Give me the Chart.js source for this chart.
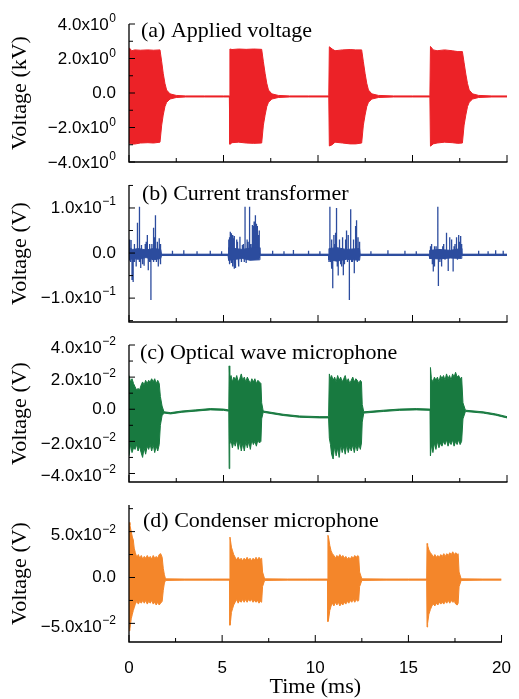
<!DOCTYPE html>
<html>
<head>
<meta charset="utf-8">
<title>Discharge signals</title>
<script src="https://cdn.jsdelivr.net/npm/chart.js@4.4.1/dist/chart.umd.min.js"></script>
<style>
  html, body { margin: 0; padding: 0; background: #fff; overflow: hidden; }
  body { width: 519px; height: 699px; position: relative; }
  canvas { position: absolute; left: 0; }
</style>
</head>
<body>
<canvas id="panel-a"></canvas>
<canvas id="panel-b"></canvas>
<canvas id="panel-c"></canvas>
<canvas id="panel-d"></canvas>
<script>
// ---- shared time axis (ms) ----
const xMajorTicks = [0, 5, 10, 15, 20];
const xTickLabels = ['0', '5', '10', '15', '20'];
const xMinorTicks = [2.5, 7.5, 12.5, 17.5];

// ---- (a) applied voltage, burst envelope (kV) ----
const aTime = [
  0, 0.15, 0.3, 0.6, 1.0, 1.3, 1.64, 1.73, 1.81, 1.90, 1.99, 2.17, 2.5,
  3.0, 4.0, 5.0, 5.31,
  5.34, 5.45, 5.8, 6.2, 6.6, 7.02, 7.11, 7.20, 7.29, 7.38, 7.56, 7.9,
  8.5, 9.5, 10.57,
  10.60, 10.75, 10.9, 11.3, 11.7, 12.0, 12.31, 12.40, 12.49, 12.58, 12.67, 12.85, 13.2,
  14.0, 15.0, 15.92,
  15.95, 16.1, 16.3, 16.7, 17.1, 17.4, 17.64, 17.73, 17.82, 17.91, 18.00, 18.18, 18.5,
  19.2, 20
];
const aUpper = [
  2.63, 2.45, 2.5, 2.48, 2.5, 2.48, 2.5, 1.81, 1.14, 0.56, 0.17, -0.05, -0.14,
  -0.17, -0.17, -0.17, -0.17,
  2.55, 2.52, 2.55, 2.53, 2.55, 2.53, 1.81, 1.14, 0.56, 0.17, -0.05, -0.14,
  -0.17, -0.17, -0.17,
  2.68, 2.55, 2.45, 2.5, 2.52, 2.5, 2.5, 1.81, 1.14, 0.56, 0.17, -0.05, -0.14,
  -0.17, -0.17, -0.17,
  2.7, 2.5, 2.45, 2.5, 2.45, 2.4, 2.4, 1.75, 1.1, 0.55, 0.17, -0.05, -0.14,
  -0.17, -0.17
];
const aLower = [
  -2.9, -2.96, -2.96, -2.9, -2.88, -2.9, -2.85, -1.86, -1.28, -0.79, -0.54, -0.35, -0.26,
  -0.23, -0.23, -0.23, -0.23,
  -2.97, -2.88, -2.85, -2.9, -2.92, -2.9, -1.86, -1.28, -0.79, -0.54, -0.35, -0.26,
  -0.23, -0.23, -0.23,
  -3.07, -3.0, -2.85, -2.9, -2.95, -2.95, -2.9, -1.86, -1.28, -0.79, -0.54, -0.35, -0.26,
  -0.23, -0.23, -0.23,
  -3.08, -2.95, -2.9, -2.85, -2.88, -2.92, -2.9, -1.86, -1.28, -0.79, -0.54, -0.35, -0.26,
  -0.23, -0.23
];
const aMajorTicks = [-4, -2, 0, 2, 4];
const aTickLabels = ['\u22124.0x10^0', '\u22122.0x10^0', '0.0', '2.0x10^0', '4.0x10^0'];
const aMinorTicks = [-3, -1, 1, 3];

// ---- (b) current transformer (V) ----
const bTime  = [0, 0.2, 0.5, 0.9, 1.3, 1.68, 1.72, 5.24, 5.27, 5.6, 6.0, 6.4, 6.9, 6.93, 10.55, 10.58, 11.0, 11.5, 12.2, 12.23, 15.88, 15.91, 16.4, 17.0, 17.58, 17.61, 20];
const bUpper = [0.012, 0.008, 0.01, 0.007, 0.01, 0.008, -0.0025, -0.0025, 0.012, 0.01, 0.008, 0.011, 0.012, -0.0025, -0.0025, 0.01, 0.012, 0.008, 0.01, -0.0025, -0.0025, 0.006, 0.008, 0.006, 0.01, -0.0025, -0.0025];
const bLower = [-0.016, -0.012, -0.014, -0.01, -0.015, -0.012, -0.0055, -0.0055, -0.016, -0.014, -0.012, -0.016, -0.015, -0.0055, -0.0055, -0.015, -0.018, -0.014, -0.016, -0.0055, -0.0055, -0.012, -0.013, -0.011, -0.012, -0.0055, -0.0055];
const bBaseline = -0.004;
const bSpikeTime = [
  0.03, 0.08, 0.11, 0.16, 0.22, 0.27, 0.30, 0.38, 0.43, 0.46, 0.53, 0.57, 0.62, 0.66, 0.72, 0.80, 0.86,
  0.91, 0.97, 1.02, 1.07, 1.11, 1.16, 1.21, 1.27, 1.32, 1.36, 1.40, 1.45, 1.50, 1.55, 1.60, 1.65, 1.68,
  2.3, 2.9, 3.6, 4.3, 4.9,
  5.28, 5.31, 5.33, 5.36, 5.40, 5.43, 5.47, 5.50, 5.53, 5.56, 5.58, 5.61, 5.65, 5.70, 5.74, 5.78, 5.82, 5.87, 5.95, 6.00, 6.05, 6.10,
  6.14, 6.20, 6.25, 6.30, 6.35, 6.40, 6.45, 6.48, 6.53, 6.58, 6.62, 6.67, 6.70, 6.72, 6.76, 6.78, 6.80, 6.84, 6.86, 6.88, 6.90,
  7.6, 8.2, 8.7, 9.5, 10.1,
  10.58, 10.63, 10.66, 10.70, 10.74, 10.78, 10.84, 10.87, 10.93, 10.98, 11.02, 11.07, 11.12, 11.15, 11.20, 11.25, 11.30, 11.34,
  11.40, 11.46, 11.51, 11.56, 11.60, 11.66, 11.73, 11.78, 11.82, 11.88, 11.92, 11.99, 12.04, 12.08, 12.12, 12.17, 12.22,
  12.8, 13.7, 14.6, 15.2,
  15.93, 15.97, 16.01, 16.05, 16.10, 16.14, 16.18, 16.25, 16.34, 16.37, 16.45, 16.54, 16.60, 16.65, 16.72, 16.80,
  16.89, 16.97, 17.03, 17.07, 17.15, 17.20, 17.25, 17.33, 17.38, 17.42, 17.46, 17.50, 17.53, 17.56, 17.60,
  18.5, 19.0, 19.4, 19.8
];
const bSpikeValue = [
  0.03, -0.02, 0.029, -0.06, -0.064, 0.02, -0.02, -0.03, 0.03, 0.067, 0.103, -0.02, -0.033, 0.018, -0.025, -0.028, 0.02,
  0.025, 0.04, -0.038, 0.02, -0.02, -0.104, 0.02, 0.056, -0.02, 0.035, 0.084, -0.02, 0.025, -0.03, 0.033, -0.025, 0.02,
  0.005, 0.006, 0.004, 0.005, 0.004,
  0.03, 0.035, -0.025, 0.047, 0.044, -0.022, -0.03, 0.04, 0.033, -0.035, 0.038, -0.033, -0.03, 0.03, 0.025, -0.03, -0.02, 0.036, -0.02, 0.018, 0.02, -0.02,
  0.103, -0.022, 0.03, 0.025, -0.015, 0.103, 0.02, -0.015, 0.062, 0.06, 0.07, 0.084, 0.08, 0.065, 0.065, 0.06, 0.055, -0.01, 0.04, 0.05, -0.012,
  0.005, 0.004, 0.007, 0.005, 0.004,
  -0.02, 0.103, -0.02, -0.035, 0.03, -0.078, 0.04, 0.02, 0.045, 0.1, -0.03, -0.05, 0.03, 0.02, -0.025, -0.03, 0.035, -0.049,
  -0.025, 0.03, 0.05, -0.02, 0.04, -0.104, 0.097, -0.02, -0.02, 0.03, -0.045, 0.06, 0.073, -0.02, 0.035, 0.02, 0.025,
  0.004, 0.006, 0.005, 0.004,
  0.015, -0.01, 0.02, -0.025, -0.041, 0.015, -0.03, 0.015, 0.103, -0.073, -0.02, -0.03, 0.015, 0.02, -0.015, 0.045,
  -0.04, 0.035, -0.01, 0.03, -0.041, 0.015, 0.02, 0.035, -0.015, 0.04, 0.03, 0.025, 0.035, 0.038, 0.02,
  0.005, 0.004, 0.006, 0.005
];
const bMajorTicks = [-0.1, 0, 0.1];
const bTickLabels = ['\u22121.0x10^\u22121', '0.0', '1.0x10^\u22121'];
const bMinorTicks = [-0.15, -0.05, 0.05, 0.15];

// ---- (c) optical wave microphone (V) ----
const cTime = [
  0, 0.08, 0.16, 0.24, 0.32, 0.40, 0.48, 0.56, 0.64, 0.72, 0.80, 0.88, 0.96, 1.04, 1.12, 1.20, 1.28, 1.36, 1.44, 1.52, 1.60, 1.66, 1.75, 1.85,
  2.2, 2.8, 3.5, 4.3, 5.0, 5.28,
  5.30, 5.33, 5.40, 5.47, 5.55, 5.62, 5.70, 5.78, 5.86, 5.94, 6.02, 6.10, 6.18, 6.26, 6.34, 6.42, 6.50, 6.58, 6.66, 6.74, 6.82, 6.90, 6.98, 7.02, 7.1,
  8.15, 9.03, 10.1, 10.56,
  10.60, 10.66, 10.72, 10.80, 10.88, 10.96, 11.04, 11.12, 11.20, 11.28, 11.36, 11.44, 11.52, 11.60, 11.68, 11.76, 11.84, 11.92, 12.00, 12.08, 12.16, 12.24, 12.30, 12.34, 12.42,
  13.45, 14.3, 15.2, 15.93,
  15.95, 16.00, 16.08, 16.16, 16.24, 16.32, 16.40, 16.48, 16.56, 16.64, 16.72, 16.80, 16.88, 16.96, 17.04, 17.12, 17.20, 17.28, 17.36, 17.44, 17.52, 17.60, 17.67, 17.8,
  18.74, 19.4, 20
];
const cUpper = [
  0.021, 0.017, 0.019, 0.016, 0.014, 0.012, 0.013, 0.012, 0.015, 0.017, 0.015, 0.018, 0.016, 0.018, 0.017, 0.019, 0.017, 0.019, 0.016, 0.018, 0.016, 0.008, 0.002, -0.0016,
  -0.0021, -0.0011, -0.0004, 0.0004, 0.0001, -0.0004,
  0.027, 0.019, 0.021, 0.017, 0.020, 0.018, 0.021, 0.017, 0.019, 0.022, 0.018, 0.020, 0.017, 0.020, 0.018, 0.016, 0.019, 0.017, 0.019, 0.016, 0.018, 0.017, 0.016, 0.004, -0.0011,
  -0.0031, -0.0042, -0.0046, -0.0046,
  0.022, 0.019, 0.021, 0.018, 0.020, 0.017, 0.021, 0.018, 0.020, 0.017, 0.019, 0.021, 0.017, 0.019, 0.016, 0.018, 0.020, 0.017, 0.019, 0.018, 0.016, 0.018, 0.017, 0.003, -0.0016,
  -0.0006, 0.0001, 0.0004, 0.0001,
  0.026, 0.019, 0.017, 0.020, 0.018, 0.020, 0.017, 0.021, 0.019, 0.021, 0.018, 0.022, 0.019, 0.021, 0.018, 0.022, 0.020, 0.023, 0.020, 0.021, 0.019, 0.020, 0.004, -0.0006,
  -0.0016, -0.0029, -0.0046
];
const cLower = [
  -0.029, -0.022, -0.027, -0.024, -0.025, -0.022, -0.026, -0.023, -0.027, -0.030, -0.024, -0.028, -0.023, -0.025, -0.022, -0.026, -0.022, -0.027, -0.023, -0.026, -0.022, -0.01, -0.004, -0.0024,
  -0.0029, -0.0019, -0.0012, -0.0004, -0.0007, -0.0012,
  -0.037, -0.022, -0.019, -0.024, -0.020, -0.023, -0.019, -0.025, -0.020, -0.026, -0.021, -0.026, -0.020, -0.024, -0.020, -0.025, -0.019, -0.022, -0.020, -0.023, -0.019, -0.021, -0.020, -0.006, -0.0019,
  -0.0039, -0.0050, -0.0054, -0.0054,
  -0.018, -0.022, -0.028, -0.031, -0.023, -0.029, -0.024, -0.030, -0.022, -0.027, -0.023, -0.028, -0.022, -0.027, -0.023, -0.026, -0.022, -0.027, -0.022, -0.026, -0.022, -0.025, -0.021, -0.008, -0.0024,
  -0.0014, -0.0007, -0.0004, -0.0007,
  -0.029, -0.022, -0.027, -0.021, -0.025, -0.020, -0.024, -0.021, -0.023, -0.020, -0.022, -0.019, -0.023, -0.020, -0.022, -0.019, -0.023, -0.020, -0.022, -0.019, -0.022, -0.020, -0.006, -0.0014,
  -0.0024, -0.0037, -0.0054
];
const cMajorTicks = [-0.04, -0.02, 0, 0.02, 0.04];
const cTickLabels = ['\u22124.0x10^\u22122', '\u22122.0x10^\u22122', '0.0', '2.0x10^\u22122', '4.0x10^\u22122'];
const cMinorTicks = [-0.03, -0.01, 0.01, 0.03];

// ---- (d) condenser microphone (V) ----
const dTime = [
  0, 0.05, 0.12, 0.18, 0.23, 0.28, 0.34, 0.42, 0.50, 0.58, 0.66, 0.74, 0.82, 0.90, 0.98, 1.06, 1.14, 1.22, 1.30, 1.38, 1.46, 1.54, 1.62, 1.70, 1.78, 1.84, 1.90, 1.96,
  3.0, 4.5, 5.40,
  5.42, 5.45, 5.50, 5.56, 5.62, 5.70, 5.78, 5.86, 5.94, 6.02, 6.10, 6.18, 6.26, 6.34, 6.42, 6.50, 6.58, 6.66, 6.74, 6.82, 6.90, 6.98, 7.06, 7.12, 7.17, 7.28,
  8.5, 9.6, 10.66,
  10.68, 10.71, 10.78, 10.85, 10.92, 11.00, 11.08, 11.16, 11.24, 11.32, 11.40, 11.48, 11.56, 11.64, 11.72, 11.80, 11.88, 11.96, 12.04, 12.12, 12.20, 12.28, 12.33, 12.38, 12.5,
  13.8, 15.0, 15.98,
  16.00, 16.03, 16.10, 16.18, 16.26, 16.34, 16.42, 16.50, 16.58, 16.66, 16.74, 16.82, 16.90, 16.98, 17.06, 17.14, 17.22, 17.30, 17.38, 17.46, 17.54, 17.62, 17.67, 17.72, 17.83,
  19.0, 20
];
const dUpper = [
  0.06, 0.057, 0.05, 0.044, 0.041, 0.032, 0.027, 0.022, 0.025, 0.021, 0.024, 0.020, 0.023, 0.021, 0.024, 0.021, 0.023, 0.020, 0.024, 0.021, 0.023, 0.021, 0.025, 0.026, 0.022, 0.010, 0.003, -0.0015,
  -0.0017, -0.0017, -0.0017,
  0.044, 0.040, 0.033, 0.029, 0.025, 0.022, 0.019, 0.022, 0.019, 0.021, 0.018, 0.021, 0.019, 0.022, 0.019, 0.021, 0.018, 0.021, 0.019, 0.022, 0.019, 0.022, 0.020, 0.021, 0.006, -0.0015,
  -0.0017, -0.0017, -0.0017,
  0.046, 0.044, 0.035, 0.029, 0.026, 0.024, 0.021, 0.024, 0.022, 0.025, 0.022, 0.024, 0.021, 0.023, 0.020, 0.022, 0.020, 0.023, 0.021, 0.024, 0.022, 0.024, 0.023, 0.006, -0.0015,
  -0.0017, -0.0017, -0.0017,
  0.037, 0.035, 0.030, 0.027, 0.025, 0.022, 0.025, 0.022, 0.024, 0.022, 0.025, 0.023, 0.026, 0.023, 0.026, 0.024, 0.027, 0.025, 0.028, 0.025, 0.027, 0.025, 0.026, 0.006, -0.0015,
  -0.0017, -0.0017
];
const dLower = [
  -0.058, -0.056, -0.045, -0.040, -0.036, -0.033, -0.029, -0.026, -0.029, -0.026, -0.028, -0.025, -0.028, -0.025, -0.029, -0.026, -0.028, -0.025, -0.029, -0.027, -0.030, -0.027, -0.030, -0.028, -0.026, -0.014, -0.006, -0.0032,
  -0.0029, -0.0029, -0.0029,
  -0.052, -0.048, -0.038, -0.034, -0.030, -0.027, -0.024, -0.028, -0.025, -0.027, -0.024, -0.027, -0.024, -0.027, -0.024, -0.026, -0.024, -0.027, -0.025, -0.027, -0.025, -0.028, -0.026, -0.027, -0.010, -0.0032,
  -0.0029, -0.0029, -0.0029,
  -0.048, -0.046, -0.036, -0.031, -0.028, -0.031, -0.027, -0.030, -0.027, -0.031, -0.028, -0.030, -0.027, -0.029, -0.026, -0.028, -0.025, -0.027, -0.024, -0.027, -0.024, -0.026, -0.025, -0.010, -0.0032,
  -0.0029, -0.0029, -0.0029,
  -0.054, -0.050, -0.040, -0.035, -0.031, -0.029, -0.031, -0.028, -0.030, -0.027, -0.029, -0.027, -0.029, -0.026, -0.028, -0.025, -0.028, -0.025, -0.027, -0.026, -0.029, -0.030, -0.028, -0.010, -0.0032,
  -0.0029, -0.0029
];
const dMajorTicks = [-0.05, 0, 0.05];
const dTickLabels = ['\u22125.0x10^\u22122', '0.0', '5.0x10^\u22122'];
const dMinorTicks = [-0.025, 0.025, 0.075];

// ---- layout ----
const AREA_LEFT = 129;
const AREA_RIGHT = 507;
const PAD_TOP = 18;
const SANS = '"Liberation Sans", Arial, Helvetica, sans-serif';
const SERIF = '"Liberation Serif", "Times New Roman", Times, serif';

function points(time, values) {
  return time.map((t, i) => ({ x: t, y: values[i] }));
}

function bandDatasets(time, upper, lower, color) {
  return [
    { data: points(time, upper), borderColor: color, backgroundColor: color, fill: '+1' },
    { data: points(time, lower), borderColor: color, backgroundColor: color, fill: false }
  ];
}

// draws "4.0x10^0" with a raised exponent
function drawTickLabel(ctx, text, right, y, shift) {
  const parts = text.split('^');
  ctx.textAlign = 'right';
  let edge = right;
  let yy = y;
  if (parts.length > 1) {
    yy = y + shift;
    ctx.font = '12px ' + SANS;
    ctx.textBaseline = 'alphabetic';
    ctx.fillText(parts[1], edge, yy - 3);
    edge -= ctx.measureText(parts[1]).width + 0.5;
  }
  ctx.font = '17px ' + SANS;
  ctx.textBaseline = 'middle';
  ctx.fillText(parts[0], edge, yy);
}

function axisPlugin(p) {
  return {
    id: 'axisDecor',
    afterDatasetsDraw(chart) {
      const { ctx, chartArea: area, scales: { x, y } } = chart;
      ctx.save();
      ctx.strokeStyle = '#000';
      ctx.lineWidth = 1.3;
      ctx.beginPath();
      ctx.moveTo(area.left, area.top);
      ctx.lineTo(area.left, area.bottom);
      ctx.lineTo(area.right + 0.5, area.bottom);
      ctx.stroke();

      // ticks point into the plot
      ctx.lineWidth = 1;
      ctx.beginPath();
      xMajorTicks.forEach(v => {
        const px = x.getPixelForValue(v);
        ctx.moveTo(px, area.bottom); ctx.lineTo(px, area.bottom - 7);
      });
      xMinorTicks.forEach(v => {
        const px = x.getPixelForValue(v);
        ctx.moveTo(px, area.bottom); ctx.lineTo(px, area.bottom - 4);
      });
      p.major.forEach(v => {
        const py = y.getPixelForValue(v);
        ctx.moveTo(area.left, py); ctx.lineTo(area.left + 6, py);
      });
      p.minor.forEach(v => {
        const py = y.getPixelForValue(v);
        ctx.moveTo(area.left, py); ctx.lineTo(area.left + 4, py);
      });
      ctx.stroke();

      ctx.fillStyle = '#000';
      p.major.forEach((v, i) => {
        drawTickLabel(ctx, p.labels[i], area.left - 13, y.getPixelForValue(v), p.labelShift);
      });

      ctx.font = '22px ' + SERIF;
      ctx.textAlign = 'left';
      ctx.textBaseline = 'middle';
      ctx.fillText(p.caption, area.left + p.captionX, area.top + p.captionY);
      ctx.restore();
    }
  };
}

function makePanel(p) {
  const canvas = document.getElementById(p.id);
  const bottomRoom = p.last ? 60 : 14;
  canvas.width = 519;
  canvas.height = PAD_TOP + (p.bottom - p.top) + bottomRoom;
  canvas.style.top = (p.top - PAD_TOP) + 'px';

  new Chart(canvas.getContext('2d'), {
    type: 'line',
    data: { datasets: p.datasets },
    options: {
      responsive: false,
      animation: false,
      events: [],
      layout: { padding: { top: PAD_TOP, right: 519 - AREA_RIGHT, bottom: 0, left: 0 } },
      elements: {
        point: { radius: 0 },
        line: { borderWidth: 1, tension: 0 }
      },
      plugins: {
        legend: { display: false },
        tooltip: { enabled: false }
      },
      scales: {
        x: {
          type: 'linear',
          min: 0,
          max: 20,
          grid: { display: false },
          border: { display: false },
          afterBuildTicks: s => { s.ticks = xMajorTicks.map(v => ({ value: v })); },
          ticks: {
            display: !!p.last,
            padding: 8,
            color: '#000',
            font: { family: SANS, size: 17 },
            maxRotation: 0,
            callback: (v, i) => xTickLabels[i]
          },
          title: {
            display: !!p.last,
            text: 'Time (ms)',
            color: '#000',
            font: { family: SERIF, size: 22 },
            padding: { top: 0, bottom: 2 }
          },
          afterFit: s => { s.height = bottomRoom; }
        },
        y: {
          type: 'linear',
          min: p.min,
          max: p.max,
          grid: { display: false },
          border: { display: false },
          ticks: { display: false },
          title: {
            display: true,
            text: p.yTitle,
            color: '#000',
            font: { family: SERIF, size: 22 },
            padding: { top: 7, bottom: 0 }
          },
          afterFit: s => { s.width = AREA_LEFT; }
        }
      }
    },
    plugins: [axisPlugin(p)]
  });
}

// spikes of the current transformer trace
const bSpikes = [{ x: 0, y: bBaseline }];
bSpikeTime.forEach((t, i) => {
  bSpikes.push({ x: t, y: bBaseline }, { x: t, y: bSpikeValue[i] }, { x: t, y: bBaseline });
});
bSpikes.push({ x: 20, y: bBaseline });

const RED = '#ec2227';
const BLUE = '#2c4c9e';
const GREEN = '#187a40';
const ORANGE = '#f4862a';

makePanel({
  id: 'panel-a', top: 24, bottom: 162, min: -4, max: 4,
  yTitle: 'Voltage (kV)', caption: '(a) Applied voltage', captionX: 12, captionY: 7,
  major: aMajorTicks, labels: aTickLabels, minor: aMinorTicks, labelShift: 1,
  datasets: bandDatasets(aTime, aUpper, aLower, RED)
});

makePanel({
  id: 'panel-b', top: 185, bottom: 322, min: -0.153, max: 0.151,
  yTitle: 'Voltage (V)', caption: '(b) Current transformer', captionX: 13, captionY: 9,
  major: bMajorTicks, labels: bTickLabels, minor: bMinorTicks, labelShift: 0,
  datasets: bandDatasets(bTime, bUpper, bLower, BLUE).concat([
    { data: bSpikes, borderColor: BLUE, backgroundColor: BLUE, borderWidth: 1.3, fill: false }
  ])
});

makePanel({
  id: 'panel-c', top: 345, bottom: 482, min: -0.0453, max: 0.04,
  yTitle: 'Voltage (V)', caption: '(c) Optical wave microphone', captionX: 11, captionY: 8,
  major: cMajorTicks, labels: cTickLabels, minor: cMinorTicks, labelShift: 3,
  datasets: bandDatasets(cTime, cUpper, cLower, GREEN)
});

makePanel({
  id: 'panel-d', top: 505, bottom: 642, min: -0.0703, max: 0.079,
  yTitle: 'Voltage (V)', caption: '(d) Condenser microphone', captionX: 14, captionY: 16,
  major: dMajorTicks, labels: dTickLabels, minor: dMinorTicks, labelShift: 4,
  datasets: bandDatasets(dTime, dUpper, dLower, ORANGE),
  last: true
});
</script>
</body>
</html>
